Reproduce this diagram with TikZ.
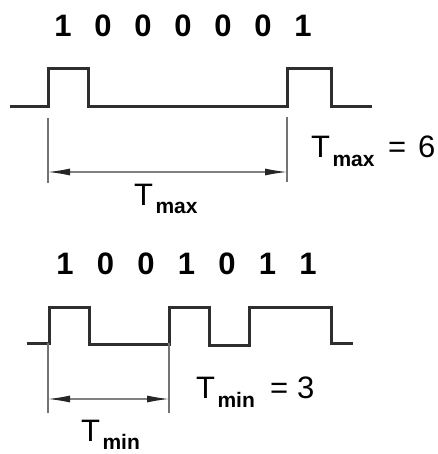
\documentclass[tikz,border=0pt]{standalone}
\usepackage{fontspec}
\setmainfont{Liberation Sans}
\usetikzlibrary{arrows.meta}
\begin{document}
\begin{tikzpicture}[x=1pt,y=-1pt,
  wave/.style={line width=3pt,color=black!82,line join=miter},
  guide/.style={line width=1.4pt,color=black!55},
  dim/.style={line width=1.2pt,color=black!50,{Latex[length=22pt,width=7pt,color=black!85]}-{Latex[length=22pt,width=7pt,color=black!85]}},
  bit/.style={anchor=base,inner sep=0pt,font=\fontsize{31}{31}\selectfont\bfseries},
  tt/.style={anchor=base west,inner sep=0pt,font=\fontsize{31}{31}\selectfont},
  sub/.style={anchor=base west,inner sep=0pt,font=\fontsize{21}{21}\selectfont\bfseries}]
\useasboundingbox (0,0) rectangle (437,454);
% ---- top bits
\foreach \b [count=\i from 0] in {1,0,0,0,0,0,1}
  \node[bit] (ta\i) at (63+40*\i,37) {\b};
% top waveform
\coordinate (w1s) at (10,107);
\coordinate (w1e) at (372,107);
\draw[wave] (w1s) -- (48,107) -- (48,69) -- (88,69) -- (88,107) -- (287,107) -- (287,69) -- (331,69) -- (331,107) -- (w1e);
% top guides
\coordinate (g1a) at (48,118);
\coordinate (g1b) at (48,183);
\coordinate (g1c) at (287,117);
\coordinate (g1d) at (287,182);
\draw[guide] (g1a) -- (g1b);
\draw[guide] (g1c) -- (g1d);
\coordinate (d1a) at (48,172);
\coordinate (d1b) at (287,172);
\draw[dim] (d1a) -- (d1b);
% top labels
\node[tt] (T1) at (311,158) {T};
\node[sub] (s1) at ([xshift=2pt,yshift=-9pt]T1.base east) {max};
\node[tt] (e1) at (388,158) {=};
\node[tt] (n1) at (418,158) {6};
\node[tt] (T2) at (134,205) {T};
\node[sub] (s2) at ([xshift=2pt,yshift=-8pt]T2.base east) {max};
% ---- bottom bits
\foreach \b [count=\i from 0] in {1,0,0,1,0,1,1}
  \node[bit] (tb\i) at (65+40.5*\i,274) {\b};
% bottom waveform
\coordinate (w2s) at (27,343);
\coordinate (w2e) at (353,343);
\draw[wave] (w2s) -- (49,343) -- (49,307) -- (89,307) -- (89,344) -- (169,344) -- (169,307) -- (209,307) -- (209,345) -- (249,345) -- (249,307) -- (331,307) -- (331,343) -- (w2e);
% bottom guides
\coordinate (g2a) at (48,343);
\coordinate (g2b) at (48,413);
\coordinate (g2c) at (169,343);
\coordinate (g2d) at (169,413);
\draw[guide] (g2a) -- (g2b);
\draw[guide] (g2c) -- (g2d);
\coordinate (d2a) at (48,399);
\coordinate (d2b) at (169,399);
\draw[dim] (d2a) -- (d2b);
% bottom labels
\node[tt] (T3) at (196,398) {T};
\node[sub] (s3) at ([xshift=2pt,yshift=-9pt]T3.base east) {min};
\node[tt] (e3) at (270,398) {=};
\node[tt] (n3) at (297,398) {3};
\node[tt] (T4) at (81,441) {T};
\node[sub] (s4) at ([xshift=2pt,yshift=-8pt]T4.base east) {min};
\end{tikzpicture}
\end{document}
